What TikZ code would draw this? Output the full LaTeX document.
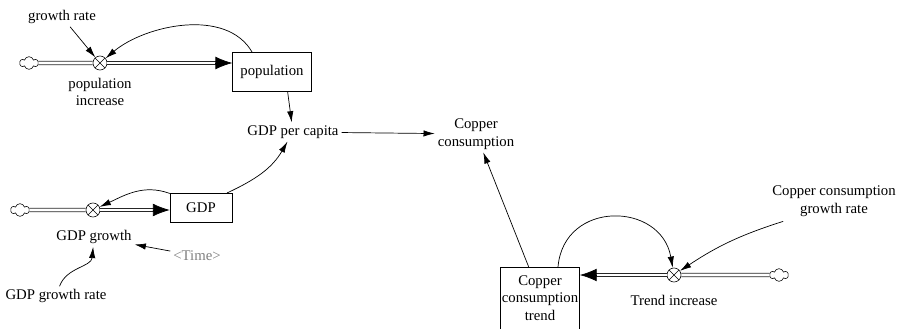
\documentclass[tikz,border=0pt]{standalone}
\usepackage{fontspec}
\setmainfont{Liberation Serif}
\usetikzlibrary{arrows.meta,shapes.symbols,positioning}
\tikzset{stock/.style={draw, rectangle, align=center, inner sep=1pt},
  valve/.style={circle, draw, fill=white, minimum size=10pt, inner sep=0pt,
    path picture={\draw (path picture bounding box.north west) -- (path picture bounding box.south east)
      (path picture bounding box.north east) -- (path picture bounding box.south west);}},
  source/.style={cloud, cloud puffs=6, draw, minimum width=13pt, minimum height=9pt, inner sep=0pt},
  pipe/.style={draw=black!85, double=white, double distance=1.8pt, line width=0.6pt},
  pipetip/.style={-{Latex[length=12pt,width=9pt]}, line width=0.5pt},
  link/.style={-{Latex[length=8pt,width=4.5pt]}, line width=0.5pt},
  var/.style={align=center, inner sep=2pt}}
\begin{document}
\begin{tikzpicture}[x=0.025cm, y=-0.025cm, font=\fontsize{10.5}{12.5}\selectfont]
  \useasboundingbox (0,0) rectangle (897,329);
  % population
  \node[var] (growthrate) at (62,17) {growth rate};
  \node[source] (cloudA) at (29,63) {};
  \node[valve] (popinc) at (100,63) {};
  \node[var] (popincl) at (100,92) {population\\increase};
  \node[stock, minimum width=56pt, minimum height=28pt] (pop) at (272,72) {population};
  \node[var] (gdppc) at (293,132) {GDP per capita};
  \node[var] (cu) at (476,134) {Copper\\consumption};
  % GDP
  \node[source] (cloudB) at (20,210) {};
  \node[valve] (gdpgr) at (93,210) {};
  \node[stock, minimum width=44pt, minimum height=21pt] (gdp) at (201,208) {GDP};
  \node[var] (gdpgrl) at (94,237) {GDP growth};
  \node[var, text=gray] (time) at (197,256) {<Time>};
  \node[var] (gdprate) at (56,296) {GDP growth rate};
  % copper trend
  \node[stock, minimum width=55pt, minimum height=44pt] (cutrend) at (540,298) {Copper\\consumption\\trend};
  \node[valve] (trend) at (674,275) {};
  \node[source] (cloudC) at (779,275) {};
  \node[var] (trendl) at (674,300) {Trend increase};
  \node[var] (curate) at (834,201) {Copper consumption\\growth rate};

  % flows
  \draw[pipe] (cloudA) -- (popinc);
  \draw[pipe] (cloudB) -- (gdpgr);
  \draw[pipe] (cloudC) -- (trend);
  \draw[pipe, shorten >=10pt] (popinc) -- (popinc -| pop.west);
  \draw[pipe, shorten >=10pt] (gdpgr) -- (gdpgr -| gdp.west);
  \draw[pipe, shorten >=10pt] (trend) -- (trend -| cutrend.east);
  \path[pipetip]
    ([xshift=-12pt]popinc -| pop.west) edge (popinc -| pop.west)
    ([xshift=-12pt]gdpgr -| gdp.west) edge (gdpgr -| gdp.west)
    ([xshift=12pt]trend -| cutrend.east) edge (trend -| cutrend.east);
  % links
  \path[link]
    (growthrate) edge (popinc)
    (pop.135) edge [out=120, in=40, looseness=0.9] (popinc)
    (pop.south east) ++(-24,0) edge (gdppc)
    (gdppc) edge (cu)
    (gdp.155) edge [out=160, in=25] (gdpgr)
    (gdp.30) edge [out=25, in=240] (gdppc)
    (time) edge (gdpgrl)
    (gdprate) edge [out=70, in=265] (gdpgrl)
    (cutrend.60) edge [out=85, in=100, looseness=1.5] (trend)
    (cutrend.110) edge (cu)
    (curate.south west) ++(14,2) edge [bend right=8] (trend);
\end{tikzpicture}
\end{document}
